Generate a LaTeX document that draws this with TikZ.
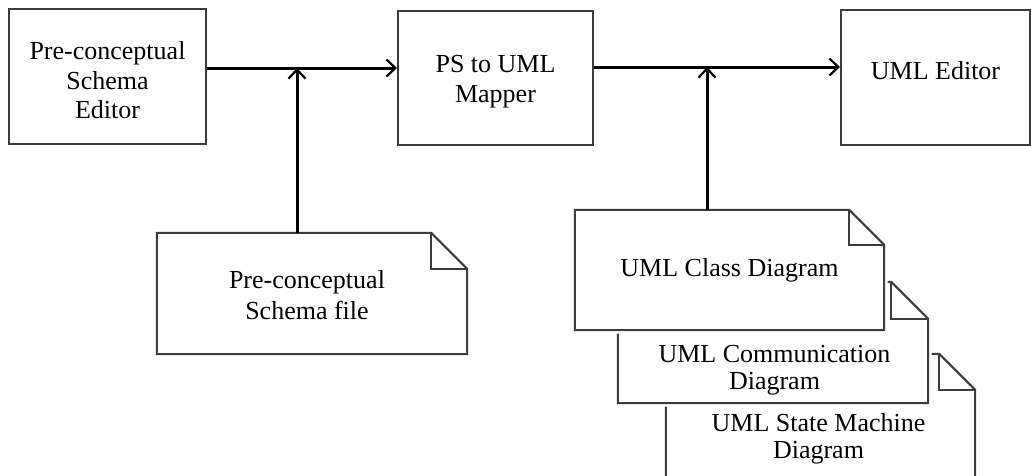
\documentclass[tikz,border=0pt]{standalone}
\usepackage{fontspec}
\setmainfont{Liberation Serif}
\usetikzlibrary{arrows.meta}
\definecolor{edgegray}{HTML}{3C3C3C}
\begin{document}
\begin{tikzpicture}[x=1pt,y=-1pt,
  txt/.style={font=\fontsize{26}{30}\selectfont, align=center},
  txtn/.style={font=\fontsize{26}{27}\selectfont, align=center},
  box/.style={draw=edgegray, line width=2pt, inner sep=0pt, fill=white},
  notebox/.style={draw=none, inner sep=0pt},
  noteline/.style={draw=edgegray, line width=2pt, fill=white, line join=miter},
  halo/.style={draw=white, line width=7pt, fill=white},
  conn/.style={line width=3pt, -{Straight Barb[length=9pt,width=17pt,line width=2.2pt]}}
]
\useasboundingbox (0,0) rectangle (1031,475);
\fill[white] (0,0) rectangle (1031,475);

% boxes
\node[box, minimum width=197pt, minimum height=135pt,
      label={[txt, yshift=-4pt]center:Pre-conceptual\\[-0.5pt]Schema\\[-0.5pt]Editor}] (b1) at (107.5,76.5) {};
\node[box, minimum width=195pt, minimum height=134pt,
      label={[txt, yshift=-4pt]center:PS to UML\\Mapper}] (b2) at (495.5,78) {};
\node[box, minimum width=189pt, minimum height=135pt,
      label={[txt, yshift=7pt]center:UML Editor}] (b3) at (935.5,77.5) {};

% note placeholders
\node[notebox, minimum width=309pt, minimum height=130pt] (n4) at (820.5,419) {};
\node[notebox, minimum width=310pt, minimum height=121pt] (n3) at (773,342.5) {};
\node[notebox, minimum width=309pt, minimum height=120pt] (n2) at (729.5,270) {};
\node[notebox, minimum width=310pt, minimum height=121pt] (n1) at (312,293.5) {};

% note outlines (back to front)
\foreach \n/\f in {n4/36, n3/37, n2/35, n1/36}{
  \path[halo] (\n.north west) -- ([xshift=-\f pt]\n.north east) -- ([yshift=-\f pt]\n.north east) -- (\n.south east) -- (\n.south west) -- cycle;
  \path[noteline] (\n.north west) -- ([xshift=-\f pt]\n.north east) -- ([yshift=-\f pt]\n.north east) -- (\n.south east) -- (\n.south west) -- cycle;
  \draw[draw=edgegray, line width=2pt] ([xshift=-\f pt]\n.north east) -- ([xshift=-\f pt, yshift=-\f pt]\n.north east) -- ([yshift=-\f pt]\n.north east);
}

% note texts
\node[txtn] (t4) at ([xshift=-2pt, yshift=-20pt]n4.center) {UML State Machine\\Diagram};
\node[txtn] (t3) at ([xshift=1.5pt, yshift=-28pt]n3.center) {UML Communication\\Diagram};
\node[txt] (t2) at (n2.center) {UML Class Diagram};
\node[txt] (t1) at ([xshift=-5pt, yshift=-2pt]n1.center) {Pre-conceptual\\[1pt]Schema file};

% connectors
\coordinate (j1) at (297,68);
\coordinate (j2) at (707,67);
\draw[conn] (b1.east |- j1) -- (b2.west |- j1);
\draw[conn] (n1.north -| j1) -- (j1);
\draw[conn] (b2.east |- j2) -- (b3.west |- j2);
\draw[conn] (n2.north -| j2) -- (j2);
\end{tikzpicture}
\end{document}
